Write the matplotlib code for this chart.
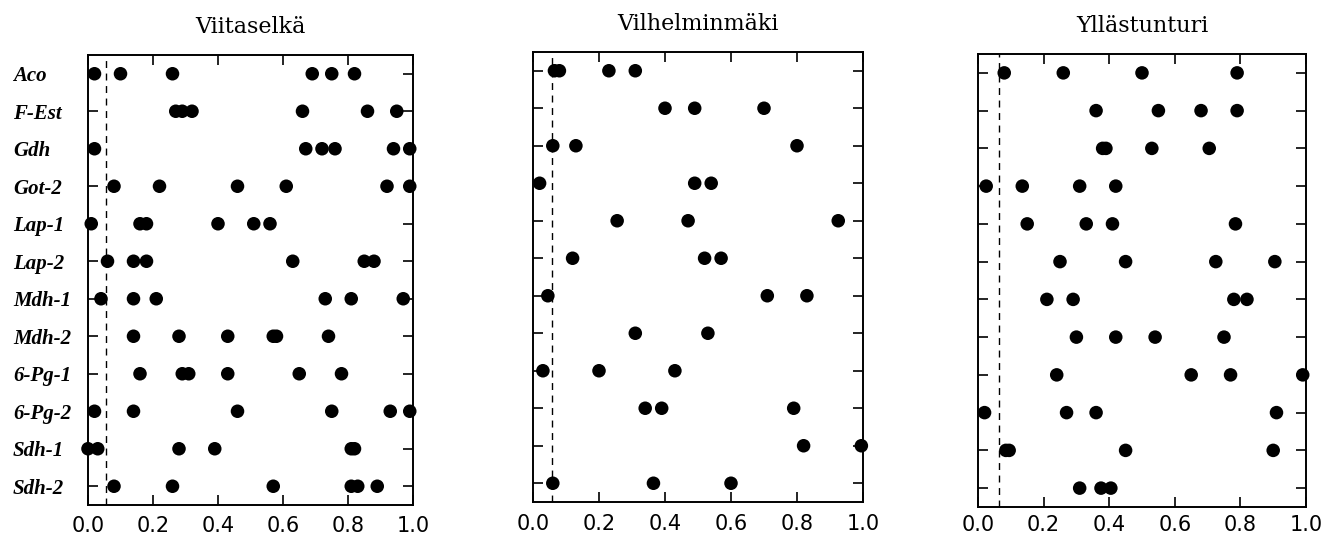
import matplotlib
matplotlib.use("Agg")
import matplotlib.pyplot as plt

# ─── Data ─────────────────────────────────────────────────────────────────────
LOCI = ["Aco", "F-Est", "Gdh", "Got-2", "Lap-1", "Lap-2",
        "Mdh-1", "Mdh-2", "6-Pg-1", "6-Pg-2", "Sdh-1", "Sdh-2"]
TITLES = ["Viitaselkä", "Vilhelminmäki", "Yllästunturi"]
CUTOFFS = [0.055, 0.057, 0.063]
XTICKS = [0.0, 0.2, 0.4, 0.6, 0.8, 1.0]

viitaselka = [
    [0.02, 0.10, 0.26, 0.69, 0.75, 0.82],
    [0.27, 0.29, 0.32, 0.66, 0.86, 0.95],
    [0.02, 0.67, 0.72, 0.76, 0.94, 0.99],
    [0.08, 0.22, 0.46, 0.61, 0.92, 0.99],
    [0.01, 0.16, 0.18, 0.40, 0.51, 0.56],
    [0.06, 0.14, 0.18, 0.63, 0.85, 0.88],
    [0.04, 0.14, 0.21, 0.73, 0.81, 0.97],
    [0.14, 0.28, 0.43, 0.57, 0.58, 0.74],
    [0.16, 0.29, 0.31, 0.43, 0.65, 0.78],
    [0.02, 0.14, 0.46, 0.75, 0.93, 0.99],
    [0.00, 0.03, 0.28, 0.39, 0.81, 0.82],
    [0.08, 0.26, 0.57, 0.81, 0.83, 0.89],
]
vilhelminmaki = [
    [0.065, 0.08, 0.23, 0.31],
    [0.40, 0.49, 0.70],
    [0.06, 0.13, 0.80],
    [0.02, 0.49, 0.54],
    [0.255, 0.47, 0.925],
    [0.12, 0.52, 0.57],
    [0.045, 0.71, 0.83],
    [0.31, 0.53],
    [0.03, 0.20, 0.43],
    [0.34, 0.39, 0.79],
    [0.82, 0.995],
    [0.06, 0.365, 0.60],
]
yllastunturi = [
    [0.08, 0.26, 0.50, 0.79],
    [0.36, 0.55, 0.68, 0.79],
    [0.38, 0.39, 0.53, 0.705],
    [0.025, 0.135, 0.31, 0.42],
    [0.15, 0.33, 0.41, 0.785],
    [0.25, 0.45, 0.725, 0.905],
    [0.21, 0.29, 0.78, 0.82],
    [0.30, 0.42, 0.54, 0.75],
    [0.24, 0.65, 0.77, 0.99],
    [0.02, 0.27, 0.36, 0.91],
    [0.085, 0.095, 0.45, 0.90],
    [0.31, 0.375, 0.405],
]
PANELS = [viitaselka, vilhelminmaki, yllastunturi]

# axes rectangles in pixels: left, top, right, bottom
RECTS = [(88, 55, 413, 505), (533, 52, 863, 502), (978, 54, 1306, 507)]
XPADS = [8, 9, 6]
W, H = 1326, 539

fig = plt.figure(figsize=(W / 100, H / 100), dpi=100)
fig.patch.set_facecolor("white")

for p, (rows, title, cut, rect) in enumerate(zip(PANELS, TITLES, CUTOFFS, RECTS)):
    l, t, r, b = rect
    ax = fig.add_axes([l / W, 1 - b / H, (r - l) / W, (b - t) / H])

    for i, vals in enumerate(rows):
        ax.scatter(vals, [i] * len(vals), s=95, color="black",
                   edgecolors="none", zorder=3, clip_on=False)

    ax.axvline(cut, color="black", linewidth=1.0,
               linestyle=(0, (5, 4)), zorder=2)

    ax.set_xlim(0, 1)
    ax.set_ylim(len(LOCI) - 0.5, -0.5)
    ax.set_xticks(XTICKS)
    ax.set_xticklabels([f"{v:.1f}" for v in XTICKS],
                       fontsize=15, family="DejaVu Sans")
    ax.set_yticks(range(len(LOCI)))
    if p == 0:
        ax.set_yticklabels(LOCI, fontsize=15, family="Liberation Serif",
                           fontweight="bold", fontstyle="italic", ha="left")
        ax.tick_params(axis="y", pad=54)
    else:
        ax.set_yticklabels([])
    ax.tick_params(axis="both", direction="in", length=7, width=1.2,
                   top=True, right=True)
    ax.tick_params(axis="x", pad=XPADS[p])
    for sp in ax.spines.values():
        sp.set_linewidth(1.4)

    ax.set_title(title, fontsize=16, family="DejaVu Serif", pad=16)

fig.savefig("out.png", dpi=100)
